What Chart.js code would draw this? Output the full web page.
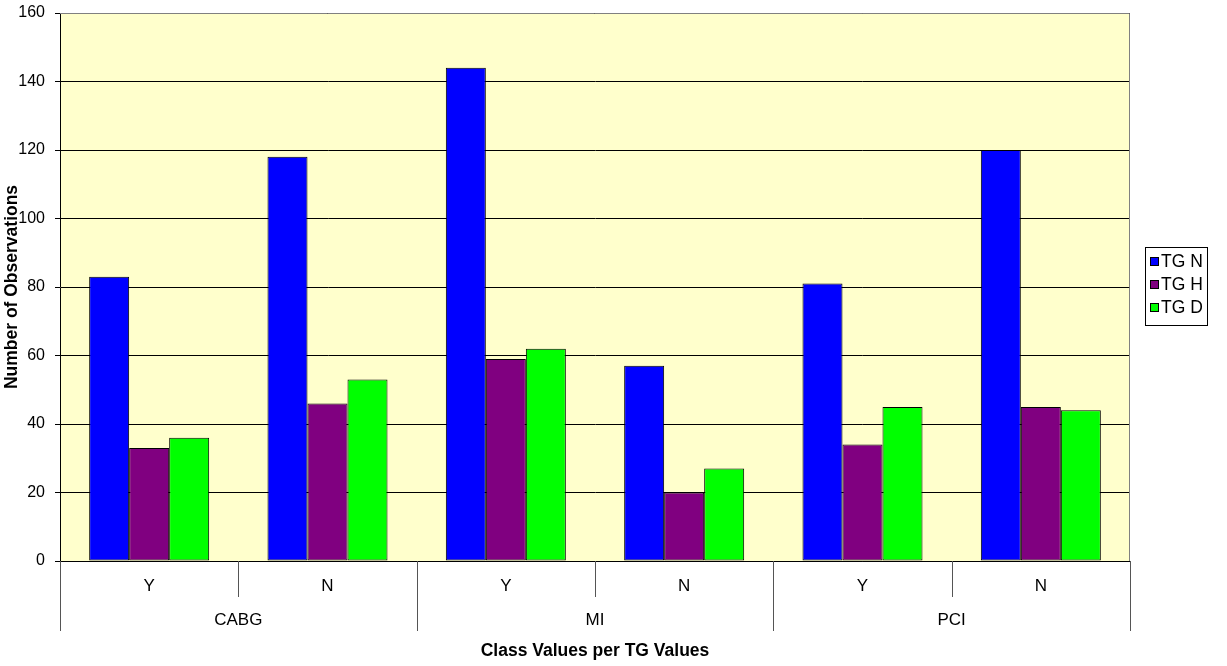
<!DOCTYPE html>
<html><head><meta charset="utf-8">
<script src="https://cdn.jsdelivr.net/npm/chart.js@4/dist/chart.umd.min.js"></script>
<style>html,body{margin:0;padding:0;background:#fff}#wrap{width:1227px;height:666px}</style>
</head><body><div id="wrap"><canvas id="c" width="1227" height="666"></canvas></div>
<script>
const groups = ["CABG", "MI", "PCI"];
const subLabels = ["Y", "N"];
const categories = ["CABG Y", "CABG N", "MI Y", "MI N", "PCI Y", "PCI N"];
const seriesNames = ["TG N", "TG H", "TG D"];
const tgN = [83, 118, 144, 57, 81, 120];
const tgH = [33, 46, 59, 20, 34, 45];
const tgD = [36, 53, 62, 27, 45, 44];
const colors = ["#0000FF", "#800080", "#00FF00"];
const yTitle = "Number of Observations";
const xTitle = "Class Values per TG Values";
const FONT = "Arial, 'Liberation Sans', sans-serif";

const custom = {
  id: 'custom',
  beforeDraw(chart) {
    const a = chart.chartArea, ctx = chart.ctx;
    ctx.save();
    ctx.fillStyle = '#FFFFCC';
    ctx.fillRect(a.left, a.top, a.right - a.left, a.bottom - a.top);
    ctx.restore();
  },
  afterDraw(chart) {
    const a = chart.chartArea, ctx = chart.ctx, xs = chart.scales.x;
    ctx.save();
    ctx.strokeStyle = '#808080'; ctx.lineWidth = 1;
    ctx.beginPath();
    ctx.moveTo(a.left, a.top + 0.5); ctx.lineTo(a.right - 0.5, a.top + 0.5); ctx.lineTo(a.right - 0.5, a.bottom);
    ctx.stroke();
    ctx.strokeStyle = '#000';
    ctx.beginPath(); ctx.moveTo(a.left, a.bottom + 0.5); ctx.lineTo(a.right, a.bottom + 0.5); ctx.stroke();
    const n = categories.length;
    const step = (xs.getPixelForValue(1) - xs.getPixelForValue(0));
    ctx.strokeStyle = '#555';
    for (let i = 0; i <= n; i++) {
      const x = Math.round(xs.getPixelForValue(i) - step / 2) + 0.5;
      const long = (i % subLabels.length === 0);
      ctx.beginPath(); ctx.moveTo(x, a.bottom); ctx.lineTo(x, a.bottom + (long ? 70 : 36)); ctx.stroke();
    }
    ctx.fillStyle = '#000';
    ctx.font = '17px ' + FONT;
    ctx.textAlign = 'center'; ctx.textBaseline = 'middle';
    for (let i = 0; i < n; i++) {
      ctx.fillText(subLabels[i % subLabels.length], xs.getPixelForValue(i), a.bottom + 25);
    }
    for (let g = 0; g < groups.length; g++) {
      const x0 = xs.getPixelForValue(g * 2), x1 = xs.getPixelForValue(g * 2 + 1);
      ctx.fillText(groups[g], (x0 + x1) / 2, a.bottom + 59);
    }
    ctx.font = 'bold 17.5px ' + FONT;
    ctx.fillText(xTitle, (a.left + a.right) / 2, 651);
    ctx.save();
    ctx.translate(12, (a.top + a.bottom) / 2);
    ctx.rotate(-Math.PI / 2);
    ctx.fillText(yTitle, 0, 0);
    ctx.restore();
    const lx = 1145.5, ly = 247.5, lw = 62, lh = 78;
    ctx.strokeStyle = '#000'; ctx.lineWidth = 1;
    ctx.strokeRect(lx, ly, lw, lh);
    ctx.font = '17.5px ' + FONT; ctx.textAlign = 'left';
    chart.data.datasets.forEach((ds, i) => {
      const cy = 261 + i * 23;
      ctx.fillStyle = ds.backgroundColor;
      ctx.fillRect(1150, cy - 4, 9, 9);
      ctx.strokeRect(1150.5, cy - 3.5, 8, 8);
      ctx.fillStyle = '#000';
      ctx.fillText(ds.label, 1161, cy + 1);
    });
    ctx.restore();
  }
};

new Chart(document.getElementById('c'), {
  type: 'bar',
  data: {
    labels: categories,
    datasets: [tgN, tgH, tgD].map((d, i) => ({
      label: seriesNames[i], data: d, backgroundColor: colors[i],
      borderColor: '#000', borderWidth: 1, borderSkipped: false
    }))
  },
  options: {
    responsive: false, animation: false,
    layout: { padding: { left: 0, top: 13, right: 97, bottom: 105 } },
    datasets: { bar: { categoryPercentage: 0.673, barPercentage: 1.0 } },
    plugins: { legend: { display: false }, tooltip: { enabled: false } },
    scales: {
      x: {
        ticks: { display: false }, grid: { display: false }, border: { display: false },
        afterFit(s) { s.height = 0; s.paddingLeft = 0; s.paddingRight = 0; }
      },
      y: {
        min: 0, max: 160,
        ticks: { stepSize: 20, color: '#000', font: { family: FONT, size: 16 }, padding: 10 },
        grid: { color: '#000', tickLength: 5, drawTicks: true },
        border: { color: '#000' },
        afterFit(s) { s.width = 60; s.paddingTop = 0; s.paddingBottom = 0; }
      }
    }
  },
  plugins: [custom]
});
</script></body></html>
